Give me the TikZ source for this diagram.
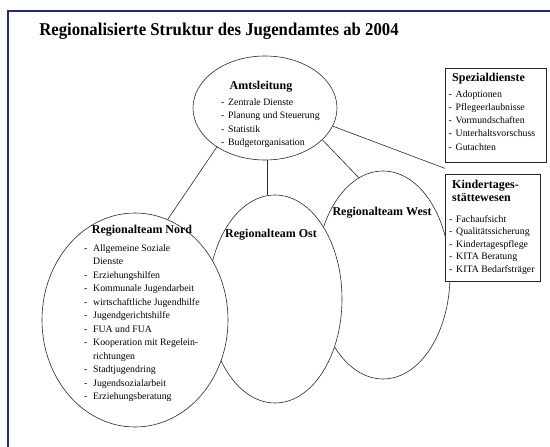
\documentclass[tikz,border=0pt]{standalone}
\usepackage{fontspec}
\setmainfont{Liberation Serif}
\usetikzlibrary{shapes.geometric,calc}
\newcommand\dsh{\makebox[7pt][l]{-}}
\newcommand\dshw{\makebox[9pt][l]{-}}
\newcommand\indw{\hspace*{9pt}}
\definecolor{framecol}{RGB}{28,48,120}
\definecolor{inkcol}{RGB}{40,40,40}
\begin{document}
\begin{tikzpicture}[x=1pt,y=-1pt,
  oval/.style={draw=inkcol,ellipse,fill=white,line width=0.6pt,inner sep=0pt},
  panel/.style={draw=inkcol,rectangle,fill=white,line width=0.8pt,inner sep=0pt,anchor=north west},
  link/.style={draw=inkcol,line width=0.6pt},
  hd/.style={font=\fontsize{12}{13}\selectfont\bfseries,inner sep=0pt,text=black},
  lst/.style={font=\fontsize{9.8}{13.5}\selectfont,align=left,inner sep=0pt,anchor=north west,text=black},
]
\useasboundingbox (0,0) rectangle (550,447);
\fill[white] (0,0) rectangle (550,447);
% frame
\draw[framecol,line width=2.4pt] (8,447) -- (8,11) -- (550,11);

% title
\node[inner sep=0pt,font=\fontsize{18}{20}\selectfont\bfseries] (title) at (219,31) {\scalebox{0.93}[1]{Regionalisierte Struktur des Jugendamtes ab 2004}};

% ellipses (west first, nord last)
\node[oval,minimum width=134pt,minimum height=208pt] (west) at (383,275) {};
\node[oval,minimum width=134pt,minimum height=208pt] (ost) at (275,299) {};
\node[oval,minimum width=186pt,minimum height=214pt] (nord) at (135,320) {};
\node[oval,minimum width=144pt,minimum height=104pt] (amt) at (265,108) {};

% boxes
\node[panel,minimum width=101pt,minimum height=94pt] (spez) at (445,68) {};
\node[panel,minimum width=95pt,minimum height=107pt] (kita) at (445,174) {};
\coordinate (gap) at ($(spez.south west)!0.5!(kita.north west)$);

% connectors
\draw[link] (amt.219) -- (nord.72);
\draw[link] (amt.272) -- (amt.272 |- ost.north);
\draw[link] (amt.331) -- (west.104);
\draw[link] (amt.345) -- (gap);

% Amtsleitung text
\node[hd] (amth) at (261,87) {Amtsleitung};
\node[lst] (amtl) at (221,98) {\dsh Zentrale Dienste\\\dsh Planung und Steuerung\\\dsh Statistik\\\dsh Budgetorganisation};

% Spezialdienste
\node[hd,anchor=west] (spezh) at (452,79) {Spezialdienste};
\node[lst,font=\fontsize{9.8}{13.3}\selectfont] (spezl) at (448.5,90) {\dsh Adoptionen\\\dsh Pflegeerlaubnisse\\\dsh Vormundschaften\\\dsh Unterhaltsvorschuss\\\dsh Gutachten};

% Kindertagesstaettenwesen
\node[hd,anchor=north west,align=left] (kitah) at (452,180) {Kindertages-\\stättewesen};
\node[lst,font=\fontsize{9.8}{12.6}\selectfont] (kital) at (449,215) {\dsh Fachaufsicht\\\dsh Qualitätssicherung\\\dsh Kindertagespflege\\\dsh KITA Beratung\\\dsh KITA Bedarfsträger};

% Regionalteams
\node[hd] (ostl) at (271,235) {Regionalteam Ost};
\node[hd] (westl) at (382,213) {Regionalteam West};
\node[hd] (nordh) at (142,231) {Regionalteam Nord};
\node[lst] (nordl) at (84,244) {\dshw Allgemeine Soziale\\\indw Dienste\\\dshw Erziehungshilfen\\\dshw Kommunale Jugendarbeit\\\dshw wirtschaftliche Jugendhilfe\\\dshw Jugendgerichtshilfe\\\dshw FUA und FUA\\\dshw Kooperation mit Regelein-\\\indw richtungen\\\dshw Stadtjugendring\\\dshw Jugendsozialarbeit\\\dshw Erziehungsberatung};
\end{tikzpicture}
\end{document}
